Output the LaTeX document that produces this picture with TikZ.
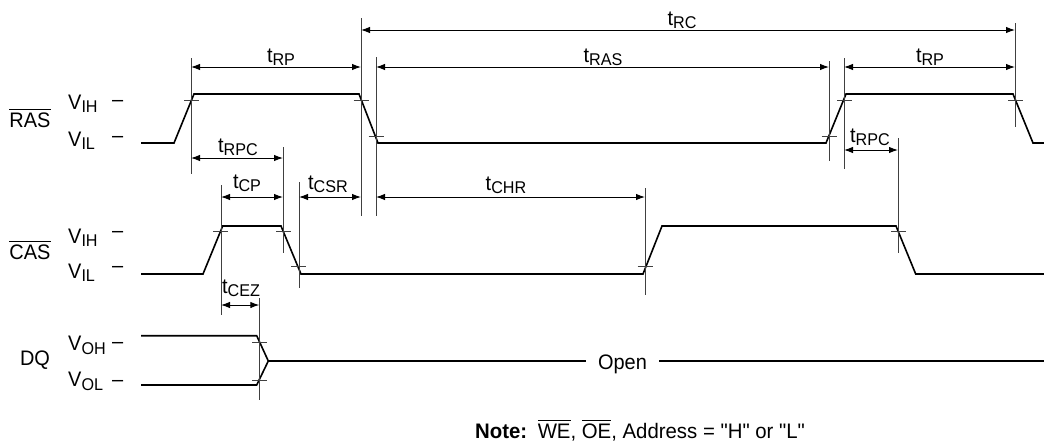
\documentclass[tikz,border=0pt]{standalone}
\usepackage{fontspec}
\setmainfont{Liberation Sans}[FakeStretch=0.95]
\newfontfamily\notefont{Liberation Sans}[FakeStretch=0.97]
\usetikzlibrary{arrows.meta}

\newcommand{\tsub}[1]{\raisebox{-3.5pt}{\fontsize{17}{20}\selectfont #1}}
\newcommand{\ovl}[1]{\vbox{\hrule height 1.3pt\kern 2.5pt\hbox{#1}}}

\begin{document}
\begin{tikzpicture}[x=1pt, y=-1pt,
  every node/.style={font=\fontsize{21}{25}\selectfont, inner sep=0pt},
  sig/.style={line width=1.6pt, line join=miter},
  guide/.style={line width=0.9pt, black!75},
  tick/.style={line width=0.9pt, black!75},
  dim/.style={line width=1pt, {Latex[length=9pt,width=6.5pt]}-{Latex[length=9pt,width=6.5pt]}},
  lbl/.style={anchor=base},
  lvl/.style={anchor=base west}
]
\useasboundingbox (0,0) rectangle (1044,445);

% signal names and levels
\node[lbl] (ras) at (30,127) {\ovl{RAS}};
\node[lvl] (rasH) at (68,109) {V\tsub{IH}};
\node[lvl] (rasL) at (68,146) {V\tsub{IL}};
\node[lvl] at (112,106) {–};
\node[lvl] at (112,142) {–};

\node[lbl] (cas) at (30,259) {\ovl{CAS}};
\node[lvl] (casH) at (68,243) {V\tsub{IH}};
\node[lvl] (casL) at (68,278) {V\tsub{IL}};
\node[lvl] at (112,237.5) {–};
\node[lvl] at (112,272) {–};

\node[lbl] (dq) at (35,365) {DQ};
\node[lvl] (dqH) at (68,350.5) {V\tsub{OH}};
\node[lvl] (dqL) at (68,386.5) {V\tsub{OL}};
\node[lvl] at (112,348.5) {–};
\node[lvl] at (112,386) {–};

% waveforms
\draw[sig] (141,143) -- (174,143) -- (194,94) -- (359,94) -- (378,143)
  -- (826,143) -- (846,94) -- (1013,94) -- (1033,143) -- (1044,143);
\draw[sig] (141,274) -- (203,274) -- (222.7,226) -- (281,226) -- (301,274)
  -- (643,274) -- (662,226) -- (896,226) -- (915.7,274) -- (1044,274);

\coordinate (dqz) at (268.3,361);
\node[lbl, inner xsep=12pt] (open) at (622.5,369.5) {Open};
\draw[sig] (141,335.7) -- (256.7,335.7) -- (dqz) -- (256.7,385) -- (141,385);
\draw[sig] (dqz) -- (open.west |- dqz);
\draw[sig] (open.east |- dqz) -- (1044,361);

% reference lines
\draw[guide] (191,58) -- (191,174);
\draw[guide] (361,18) -- (361,216);
\draw[guide] (376,57) -- (376,216);
\draw[guide] (829,61) -- (829,161);
\draw[guide] (844,58) -- (844,169);
\draw[guide] (1015,23) -- (1015,127);
\draw[guide] (283,147) -- (283,253);
\draw[guide] (898,138) -- (898,253);
\draw[guide] (221,185) -- (221,315);
\draw[guide] (299,182) -- (299,288);
\draw[guide] (645,188) -- (645,295);
\draw[guide] (259.3,298) -- (259.3,400);

% level crossings
\draw[tick] (184,100) -- ++(15,0);
\draw[tick] (353.5,100) -- ++(15,0);
\draw[tick] (368.5,136) -- ++(15,0);
\draw[tick] (821.5,136) -- ++(15,0);
\draw[tick] (837,100) -- ++(15,0);
\draw[tick] (1008,100) -- ++(15,0);
\draw[tick] (213,231.7) -- ++(15,0);
\draw[tick] (276,231.7) -- ++(15,0);
\draw[tick] (291,266) -- ++(15,0);
\draw[tick] (637.5,266) -- ++(15,0);
\draw[tick] (891,231.7) -- ++(15,0);
\draw[tick] (252,342.3) -- ++(15,0);
\draw[tick] (252,380) -- ++(15,0);

% timing parameters
\draw[dim] (361,30) -- (1015,30);
\node[lbl] (tRC) at (682,25) {t\tsub{RC}};
\draw[dim] (191,67) -- (361,67);
\node[lbl] (tRPa) at (281,62) {t\tsub{RP}};
\draw[dim] (376,67) -- (829,67);
\node[lbl] (tRAS) at (603,62) {t\tsub{RAS}};
\draw[dim] (844,67) -- (1015,67);
\node[lbl] (tRPb) at (930,62) {t\tsub{RP}};
\draw[dim] (191,158) -- (283,158);
\node[lbl] (tRPCa) at (238,152) {t\tsub{RPC}};
\draw[dim] (844,150) -- (898,150);
\node[lbl] (tRPCb) at (870,142) {t\tsub{RPC}};
\draw[dim] (221,197) -- (283,197);
\node[lbl] (tCP) at (247,188) {t\tsub{CP}};
\draw[dim] (299,197) -- (361,197);
\node[lbl] (tCSR) at (328,189) {t\tsub{CSR}};
\draw[dim] (376,197) -- (645,197);
\node[lbl] (tCHR) at (506,190) {t\tsub{CHR}};
\draw[dim] (221,305) -- (259.3,305);
\node[lbl] (tCEZ) at (241,293) {t\tsub{CEZ}};

\node[anchor=base west] (note) at (475,438)
  {\notefont\textbf{Note:}\enspace\ovl{WE}, \ovl{OE}, Address = "H" or "L"};
\end{tikzpicture}
\end{document}
